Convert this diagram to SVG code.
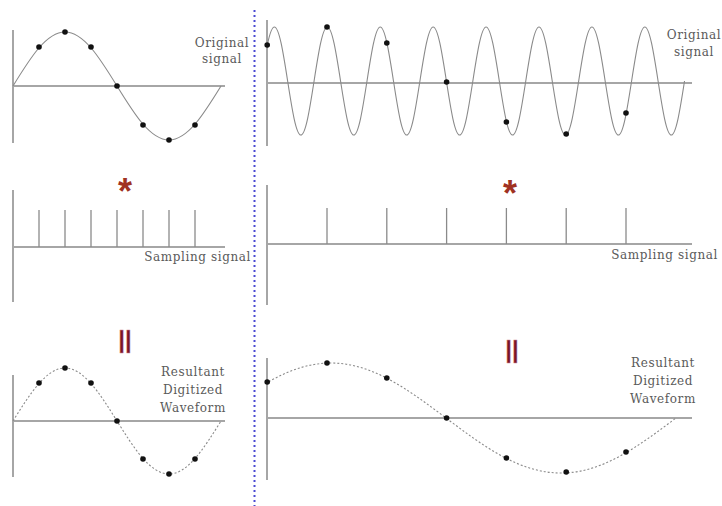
<svg xmlns="http://www.w3.org/2000/svg" width="722" height="506" viewBox="0 0 722 506">
<style>
.axis{stroke:#a6a6a6;stroke-width:2;fill:none}
.wave{stroke:#8a8a8a;stroke-width:1.1;fill:none}
.dwave{stroke:#8a8a8a;stroke-width:1.1;fill:none;stroke-dasharray:2 2}
.tick{stroke:#8a8a8a;stroke-width:1.3}
.dot{fill:#111}
.lbl{font-family:"DejaVu Serif","Liberation Serif",serif;font-size:12px;fill:#5a5a5a;letter-spacing:0.6px}
.op{font-family:"Liberation Sans",Arial,sans-serif;font-weight:bold;fill:#a03222}
.eq{font-family:"Liberation Sans",Arial,sans-serif;font-weight:bold;fill:#7a1626;stroke:#d08a96;stroke-width:0.4}
</style>
<defs>
<clipPath id="cr"><rect x="267" y="0" width="418" height="506"/></clipPath>
<clipPath id="cb"><rect x="267" y="300" width="410" height="206"/></clipPath>
</defs>
<rect width="722" height="506" fill="#fff"/>
<line id="divider" x1="254.5" y1="10" x2="254.5" y2="506" stroke="#4a4ad2" stroke-width="2" stroke-dasharray="2 3"/>

<g id="orig-left">
<line class="axis" x1="13" y1="30" x2="13" y2="143"/>
<line class="axis" x1="13" y1="86" x2="225" y2="86"/>
<path class="wave" d="M13,86 C30.2,58 46.3,32 65,32 C83.7,32 99.8,58 117,86 C134.2,114 150.3,140 169,140 C187.7,140 203.8,114 221,86"/>
<g class="dot"><circle cx="39" cy="47" r="2.8"/><circle cx="65" cy="32" r="2.8"/><circle cx="91" cy="47" r="2.8"/><circle cx="117" cy="86" r="2.8"/><circle cx="143" cy="125" r="2.8"/><circle cx="169" cy="140" r="2.8"/><circle cx="195" cy="125" r="2.8"/></g>
<text class="lbl" text-anchor="middle" x="222" y="47">Original</text>
<text class="lbl" text-anchor="middle" x="222" y="63">signal</text>
</g>

<g id="orig-right">
<line class="axis" x1="267" y1="20" x2="267" y2="146"/>
<line class="axis" x1="267" y1="83" x2="692" y2="83"/>
<path class="wave" clip-path="url(#cr)" d="M261.17,81 c4.37,-28.03 8.46,-54 13.23,-54 c4.77,0 8.86,25.97 13.23,54 c4.37,28.03 8.46,54 13.23,54 c4.77,0 8.86,-25.97 13.23,-54 c4.37,-28.03 8.46,-54 13.23,-54 c4.77,0 8.86,25.97 13.23,54 c4.37,28.03 8.46,54 13.23,54 c4.77,0 8.86,-25.97 13.23,-54 c4.37,-28.03 8.46,-54 13.23,-54 c4.77,0 8.86,25.97 13.23,54 c4.37,28.03 8.46,54 13.23,54 c4.77,0 8.86,-25.97 13.23,-54 c4.37,-28.03 8.46,-54 13.23,-54 c4.77,0 8.86,25.97 13.23,54 c4.37,28.03 8.46,54 13.23,54 c4.77,0 8.86,-25.97 13.23,-54 c4.37,-28.03 8.46,-54 13.23,-54 c4.77,0 8.86,25.97 13.23,54 c4.37,28.03 8.46,54 13.23,54 c4.77,0 8.86,-25.97 13.23,-54 c4.37,-28.03 8.46,-54 13.23,-54 c4.77,0 8.86,25.97 13.23,54 c4.37,28.03 8.46,54 13.23,54 c4.77,0 8.86,-25.97 13.23,-54 c4.37,-28.03 8.46,-54 13.23,-54 c4.77,0 8.86,25.97 13.23,54 c4.37,28.03 8.46,54 13.23,54 c4.77,0 8.86,-25.97 13.23,-54 c4.37,-28.03 8.46,-54 13.23,-54 c4.77,0 8.86,25.97 13.23,54 c4.37,28.03 8.46,54 13.23,54 c4.77,0 8.86,-25.97 13.23,-54"/>
<g class="dot"><circle cx="267.2" cy="45" r="2.8"/><circle cx="327" cy="27" r="2.8"/><circle cx="386.8" cy="43" r="2.8"/><circle cx="446.6" cy="82" r="2.8"/><circle cx="506.4" cy="122" r="2.8"/><circle cx="566.2" cy="134" r="2.8"/><circle cx="626" cy="113" r="2.8"/></g>
<text class="lbl" text-anchor="middle" x="694" y="39">Original</text>
<text class="lbl" text-anchor="middle" x="694" y="56">signal</text>
</g>

<g id="sampling-left">
<line class="axis" x1="13" y1="190" x2="13" y2="302"/>
<line class="axis" x1="13" y1="247" x2="225" y2="247"/>
<g class="tick"><line x1="39" y1="210" x2="39" y2="247"/><line x1="65" y1="210" x2="65" y2="247"/><line x1="91" y1="210" x2="91" y2="247"/><line x1="117" y1="210" x2="117" y2="247"/><line x1="143" y1="210" x2="143" y2="247"/><line x1="169" y1="210" x2="169" y2="247"/><line x1="195" y1="210" x2="195" y2="247"/></g>
<text class="lbl" text-anchor="end" x="251" y="261">Sampling signal</text>
<text class="op" font-size="36" text-anchor="middle" x="125" y="204">*</text>
</g>

<g id="sampling-right">
<line class="axis" x1="267" y1="185" x2="267" y2="305"/>
<line class="axis" x1="267" y1="244" x2="692" y2="244"/>
<g class="tick"><line x1="327" y1="208" x2="327" y2="244"/><line x1="386.8" y1="208" x2="386.8" y2="244"/><line x1="446.6" y1="208" x2="446.6" y2="244"/><line x1="506.4" y1="208" x2="506.4" y2="244"/><line x1="566.2" y1="208" x2="566.2" y2="244"/><line x1="626" y1="208" x2="626" y2="244"/></g>
<text class="lbl" text-anchor="end" x="718" y="259">Sampling signal</text>
<text class="op" font-size="36" text-anchor="middle" x="510" y="206">*</text>
</g>

<g id="result-left">
<line class="axis" x1="13" y1="375" x2="13" y2="477"/>
<line class="axis" x1="13" y1="421" x2="225" y2="421"/>
<path class="dwave" d="M13,421 C30.2,393.5 46.3,368 65,368 C83.7,368 99.8,393.5 117,421 C134.2,448.5 150.3,474 169,474 C187.7,474 203.8,448.5 221,421"/>
<g class="dot"><circle cx="39" cy="383" r="2.8"/><circle cx="65" cy="368" r="2.8"/><circle cx="91" cy="383" r="2.8"/><circle cx="117" cy="421" r="2.8"/><circle cx="143" cy="459" r="2.8"/><circle cx="169" cy="474" r="2.8"/><circle cx="195" cy="459" r="2.8"/></g>
<text class="eq" font-size="24" text-anchor="middle" x="125" y="348">||</text>
<text class="lbl" text-anchor="middle" x="193" y="376">Resultant</text>
<text class="lbl" text-anchor="middle" x="193" y="394">Digitized</text>
<text class="lbl" text-anchor="middle" x="193" y="412">Waveform</text>
</g>

<g id="result-right">
<line class="axis" x1="267" y1="358" x2="267" y2="480"/>
<line class="axis" x1="267" y1="418" x2="692" y2="418"/>
<path class="dwave" clip-path="url(#cb)" d="M216,418 c38.01,-28.55 73.54,-55 115,-55 c41.46,0 76.99,26.45 115,55 c38.01,28.55 73.54,55 115,55 c41.46,0 76.99,-26.45 115,-55"/>
<g class="dot"><circle cx="267.2" cy="382" r="2.8"/><circle cx="327" cy="363" r="2.8"/><circle cx="386.8" cy="378" r="2.8"/><circle cx="446.6" cy="418" r="2.8"/><circle cx="506.4" cy="458" r="2.8"/><circle cx="566.2" cy="472" r="2.8"/><circle cx="626" cy="452" r="2.8"/></g>
<text class="eq" font-size="24" text-anchor="middle" x="512" y="358">||</text>
<text class="lbl" text-anchor="middle" x="663" y="367">Resultant</text>
<text class="lbl" text-anchor="middle" x="663" y="385">Digitized</text>
<text class="lbl" text-anchor="middle" x="663" y="403">Waveform</text>
</g>
</svg>
